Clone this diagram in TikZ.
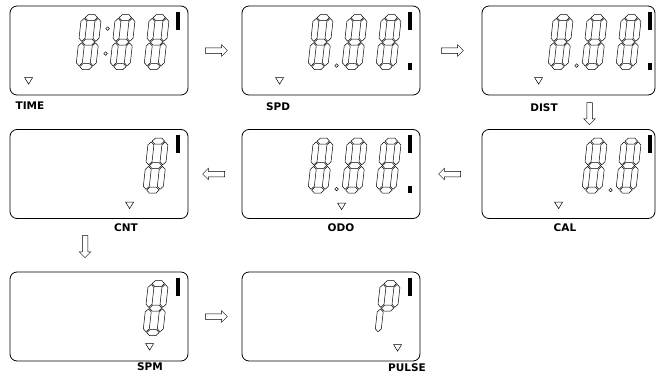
\documentclass[tikz,border=0pt]{standalone}
\usepackage{fontspec}
\setmainfont{DejaVu Sans}
\usetikzlibrary{calc,shapes.arrows}

%% one slanted seven-segment cell
\newcommand{\hseg}[1]{\draw (3.8,#1) -- ++(3,3) -- ++(6.4,0) -- ++(3,-3) -- ++(-3,-3) -- ++(-6.4,0) -- cycle;}
\newcommand{\vseg}[2]{\draw (#1,#2) -- ++(3,3) -- ++(0,16.9) -- ++(-3,3) -- ++(-3,-3) -- ++(0,-16.9) -- cycle;}

\tikzset{
  panel/.style={draw,rounded corners=7pt,line width=0.8pt,minimum width=178pt,minimum height=89pt,inner sep=0pt},
  lbl/.style={font=\bfseries\fontsize{10.5}{10.5}\selectfont,inner sep=0pt},
  blockarr/.style={single arrow,draw,fill=white,line width=0.5pt,minimum height=22pt,minimum width=11pt,inner sep=2.5pt,single arrow head extend=3pt},
  pics/lcd/.style={code={
    \begin{scope}[y=1pt,xslant=0.11,line width=0.5pt]
      \foreach \s in {#1}{\ifcase\s\or\hseg{52}\or\vseg{17}{28.3}\or\vseg{17}{3.8}\or\hseg{3}\or\vseg{3}{3.8}\or\vseg{3}{28.3}\or\hseg{27.5}\fi}
    \end{scope}}},
  pics/lcd/.default={1,2,3,4,5,6,7},
  pics/pointer/.style={code={\draw[line width=0.5pt] (-4,-3) -- (4,-3) -- (0,3.5) -- cycle;}}
}

\begin{document}
\begin{tikzpicture}[x=1pt,y=-1pt]
    \useasboundingbox (0,0) rectangle (657,383);
    %% panels
    \node[panel] (time) at (99,50.5) {};
    \node[panel] (spd) at (331,50.5) {};
    \node[panel,minimum width=173pt] (dist) at (568.5,50.5) {};
    \node[panel] (cnt) at (99,174) {};
    \node[panel] (odo) at (331,174) {};
    \node[panel,minimum width=173pt] (cal) at (568.5,174) {};
    \node[panel] (spm) at (99,316.5) {};
    \node[panel] (pulse) at (331,316.5) {};
    %% digits
    \foreach \p in {time,spd,dist,odo}
        \foreach \dx in {66,100,134}
            \pic at ($(\p.north west)+(\dx,64)$) {lcd};
    \foreach \dx in {100,134}
        \pic at ($(cal.north west)+(\dx,64)$) {lcd};
    \pic at ($(cnt.north west)+(133,64)$) {lcd};
    \pic at ($(spm.north west)+(133,64)$) {lcd};
    \pic at ($(pulse.north west)+(133,64)$) {lcd={1,2,5,6,7}};
    %% dots
    \draw[line width=0.45pt] ($(time.north west)+(98,23)$) circle (1.8);
    \draw[line width=0.45pt] ($(time.north west)+(96,48)$) circle (1.8);
    \foreach \p in {spd,dist,odo}
        \draw[line width=0.45pt] ($(\p.north west)+(95,60)$) circle (1.8);
    \draw[line width=0.45pt] ($(cal.north west)+(129,61)$) circle (1.8);
    %% unit marks
    \foreach \p in {time,spd,dist,cnt,odo,cal,spm,pulse}
        \fill ($(\p.north west)+(166,6)$) rectangle ++(4,18);
    \foreach \p in {spd,dist,odo}
        \fill ($(\p.north west)+(166,57)$) rectangle ++(4,7);
    %% pointers
    \pic at ($(time.north west)+(19,75)$) {pointer};
    \pic at ($(spd.north west)+(38,75)$) {pointer};
    \pic at ($(dist.north west)+(57,75)$) {pointer};
    \pic at ($(cnt.north west)+(120,76)$) {pointer};
    \pic at ($(odo.north west)+(100,77)$) {pointer};
    \pic at ($(cal.north west)+(77,76)$) {pointer};
    \pic at ($(spm.north west)+(140,75)$) {pointer};
    \pic at ($(pulse.north west)+(156,76)$) {pointer};
    %% labels
    \node[lbl] (timetxt) at (30,106) {TIME};
    \node[lbl] (spdtxt) at (278,107) {SPD};
    \node[lbl] (disttxt) at (544,108) {DIST};
    \node[lbl] (cnttxt) at (126,228) {CNT};
    \node[lbl] (odotxt) at (341,228) {ODO};
    \node[lbl] (caltxt) at (565,228) {CAL};
    \node[lbl] (spmtxt) at (150,367) {SPM};
    \node[lbl] (pulsetxt) at (407,368) {PULSE};
    %% arrows
    \node[blockarr] (a1) at ($(time.east)!0.5!(spd.west)$) {};
    \node[blockarr] (a2) at ($(spd.east)!0.5!(dist.west)$) {};
    \node[blockarr,shape border rotate=270] (a3) at ($(dist.south)!0.5!(cal.north)+(21,0)$) {};
    \node[blockarr,shape border rotate=180] (a4) at ($(odo.east)!0.5!(cal.west)$) {};
    \node[blockarr,shape border rotate=180] (a5) at ($(cnt.east)!0.5!(odo.west)$) {};
    \node[blockarr,shape border rotate=270] (a6) at ($(cnt.south)!0.5!(spm.north)+(-14,0)$) {};
    \node[blockarr] (a7) at ($(spm.east)!0.5!(pulse.west)$) {};
\end{tikzpicture}
\end{document}
